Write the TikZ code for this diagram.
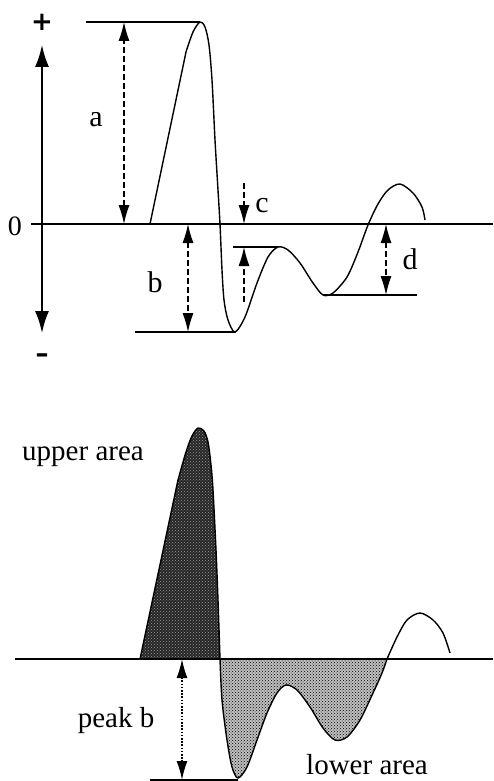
\documentclass[tikz,border=0pt]{standalone}
\usepackage{fontspec}
\setmainfont{Liberation Serif}
\newfontfamily\signfont{DejaVu Sans}
\usetikzlibrary{arrows.meta, patterns}

\begin{document}
\begin{tikzpicture}[
    x=1pt, y=-1pt,
    base/.style={line width=1.4pt},
    wave/.style={line width=1.4pt, line join=round},
    axis/.style={line width=2pt, {Latex[length=22pt,width=14pt]}-{Latex[length=22pt,width=14pt]}},
    dim/.style={line width=1.2pt, dash pattern=on 6pt off 3pt, {Latex[length=19pt,width=11pt]}-{Latex[length=19pt,width=11pt]}},
    dimup/.style={line width=1.2pt, dash pattern=on 6pt off 3pt, -{Latex[length=19pt,width=11pt]}},
    dotdim/.style={line width=1.6pt, dash pattern=on 1.6pt off 1.6pt, {Latex[length=19pt,width=11pt]}-{Latex[length=19pt,width=11pt]}},
    lbl/.style={font=\fontsize{30}{32}\selectfont, inner sep=0pt},
    sign/.style={font=\signfont\bfseries\fontsize{26}{28}\selectfont, inner sep=0pt},
    arealbl/.style={font=\fontsize{29}{32}\selectfont, inner sep=0pt},
    upperfill/.style={preaction={fill=black!85}, pattern=crosshatch dots, pattern color=white!60!black},
    lowerfill/.style={preaction={fill=black!25}, pattern=crosshatch dots, pattern color=black}
]
\useasboundingbox (0,0) rectangle (493,781);

% key points of the upper trace
\coordinate (apk) at (200,22);
\coordinate (btr) at (236,332);
\coordinate (cpk) at (278,247);
\coordinate (dtr) at (323,295);
\coordinate (ytop) at (42,45);
\coordinate (ybot) at (42,333);

% upper trace: axes
\draw[base] (31,224) coordinate (zl) -- (493,224) coordinate (zr);
\draw[axis] (ytop) -- (ybot);
\node[sign] (plus) at (42,22) {+};
\node[lbl, font=\fontsize{28}{30}\selectfont] (zero) at (15,226) {0};
\node[sign] (minus) at (42,358) {–};

% upper trace: wave
\draw[wave] (150,224) -- plot[smooth, tension=0.5] coordinates {
    (186,52) (193,32) (200,22) (205,27) (209,45) (212,80) (215,140) (218,190)
    (220,224) (222,270) (224,300) (228,320) (235,332) (245,317) (257,283)
    (268,257) (278,247) (288,250) (300,263) (313,283) (323,295) (333,293)
    (347,277) (358,252) (368,225) (378,204) (388,190) (400,184) (413,193)
    (422,207) (425,220)};

% reference lines
\draw[base] (86,22) -- (apk);
\draw[base] (135,332) -- (btr);
\draw[base] (233,247) -- (cpk);
\draw[base] (dtr) -- (417,295);

% measures
\coordinate (afoot) at (124,224);
\draw[dim] (afoot) -- (afoot |- apk);
\node[lbl] (la) at (96,120) {a};
\coordinate (bfoot) at (188,224);
\draw[dim] (bfoot) -- (bfoot |- btr);
\node[lbl] (lb) at (155,282) {b};
\coordinate (ctop) at (244,183);
\draw[dimup] (ctop) -- (ctop |- zl);
\coordinate (clow) at (244,302);
\draw[dimup] (clow) -- (clow |- cpk);
\node[lbl] (lc) at (262,206) {c};
\coordinate (dfoot) at (386,224);
\draw[dim] (dfoot) -- (dfoot |- dtr);
\node[lbl] (ld) at (410,259) {d};

% lower trace: areas
\path[upperfill, wave, draw] (140,659) -- plot[smooth, tension=0.5] coordinates {
    (178,480) (186,452) (192,436) (198,428) (204,431) (208,442) (211,465)
    (213,490) (216,550) (218,600) (220,659)} -- cycle;
\path[lowerfill, wave, draw] plot[smooth, tension=0.5] coordinates {
    (220,659) (222,700) (227,740) (232,767) (238,778) (247,767) (257,740)
    (267,713) (277,693) (286,685) (297,690) (310,707) (323,728) (335,740)
    (347,737) (360,720) (373,693) (382,673) (387,659)} -- cycle;
\draw[wave] plot[smooth, tension=0.5] coordinates {
    (387,659) (397,637) (407,620) (420,613) (433,620) (443,633) (450,653)};
\draw[base] (15,659) coordinate (bl) -- (493,659);

% lower trace: peak b
\coordinate (pbfoot) at (182,659);
\coordinate (pbtr) at (238,780);
\draw[base] (150,780) -- (pbtr);
\draw[dotdim] (pbfoot) -- (pbfoot |- pbtr);

\node[arealbl] (upper) at (83,457) {upper area};
\node[arealbl] (peakb) at (116,721) {peak b};
\node[arealbl] (lower) at (367,765) {lower area};

\end{tikzpicture}
\end{document}
